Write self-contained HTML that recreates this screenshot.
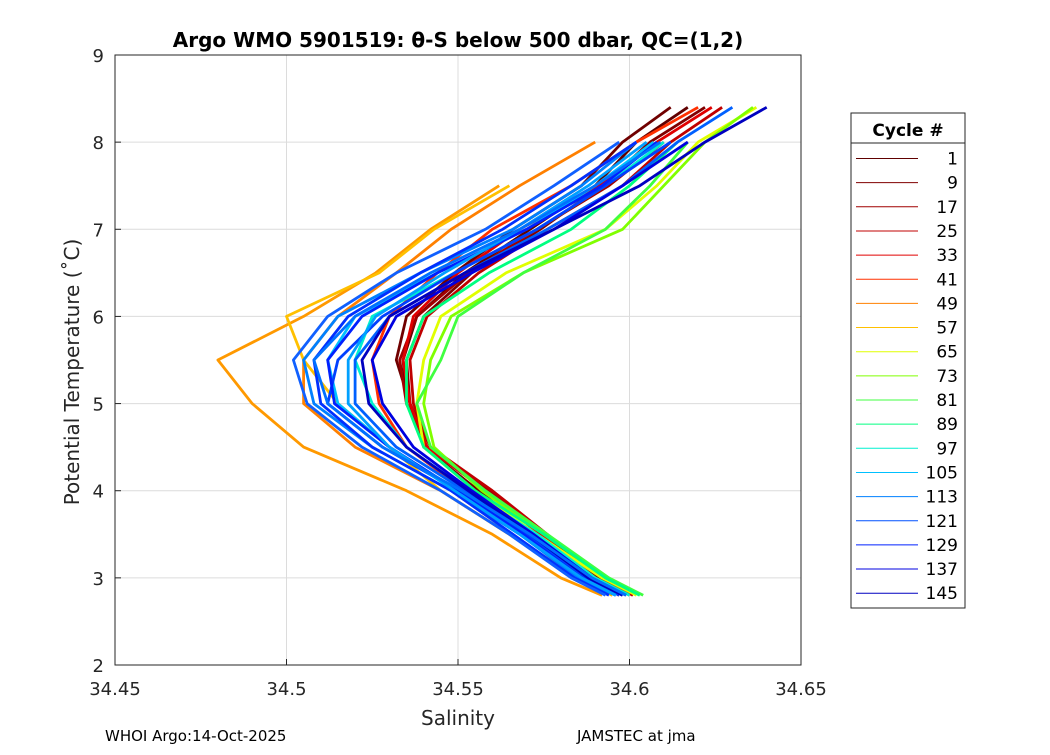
<!DOCTYPE html>
<html><head><meta charset="utf-8"><style>
body{margin:0;background:#fff;font-family:"Liberation Sans",sans-serif}
svg text{font-family:"DejaVu Sans","Liberation Sans",sans-serif}
</style></head><body>
<svg id="c" width="1050" height="750" xmlns="http://www.w3.org/2000/svg">
<rect width="1050" height="750" fill="#fff"/>
<g id="grid"></g><g id="lines"></g><g id="axes"></g><g id="legend"></g>
</svg>
<script>
const temps=[8.4,8.0,7.5,7.0,6.5,6.0,5.5,5.0,4.5,4.0,3.5,3.0,2.8];
const cycles=[1,5,9,17,25,33,41,49,53,57,65,73,81,89,97,105,113,117,121,129,137,145,141,133,101,109];
const colors=["#600000","#700000","#800000","#a00000","#c00000","#e00000","#ff3000","#ff8000","#ff9900","#ffc000","#e0ff00","#80ff00","#40ff40","#00ff80","#00f0d0","#00c0ff","#0080ff","#0060ff","#0040ff","#0020ff","#0000e0","#0000c0","#0030ff","#1060ff","#00a0ff","#0070ff"];
const salinity=[
[34.617,34.602,34.590,34.571,34.552,34.538,34.534,34.535,34.541,34.558,34.574,34.590,34.598],
[34.612,34.598,34.586,34.566,34.549,34.535,34.532,34.536,34.540,34.556,34.572,34.589,34.597],
[34.622,34.606,34.592,34.574,34.554,34.540,34.535,34.536,34.542,34.559,34.575,34.591,34.600],
[null,34.610,34.594,34.573,34.553,34.538,34.533,34.535,34.541,34.559,34.575,34.592,34.601],
[34.627,34.612,34.598,34.576,34.556,34.541,34.536,34.537,34.542,34.560,34.576,34.592,34.601],
[34.624,34.608,34.591,34.568,34.550,34.537,34.534,34.536,34.541,34.558,34.574,34.590,34.599],
[34.620,34.602,34.583,34.560,34.544,34.530,34.525,34.527,34.535,34.552,34.570,34.588,34.597],
[null,34.590,34.568,34.548,34.532,34.515,34.505,34.505,34.520,34.545,34.565,34.585,34.595],
[null,null,34.562,34.542,34.526,34.505,34.480,34.490,34.505,34.535,34.560,34.580,34.592],
[null,null,34.565,34.543,34.527,34.500,34.505,34.515,34.530,34.545,34.565,34.585,34.595],
[34.637,34.620,34.608,34.593,34.564,34.545,34.540,34.538,34.540,34.555,34.573,34.592,34.602],
[34.636,34.622,34.610,34.598,34.569,34.548,34.542,34.540,34.543,34.557,34.575,34.593,34.603],
[null,34.617,34.606,34.593,34.569,34.550,34.545,34.538,34.542,34.558,34.576,34.594,34.604],
[null,34.614,34.600,34.583,34.559,34.540,34.535,34.535,34.540,34.555,34.575,34.593,34.603],
[null,34.610,34.593,34.573,34.549,34.525,34.520,34.525,34.535,34.553,34.573,34.590,34.600],
[null,34.607,34.590,34.570,34.544,34.520,34.512,34.515,34.530,34.550,34.570,34.588,34.598],
[null,34.602,34.586,34.566,34.539,34.515,34.505,34.508,34.525,34.548,34.568,34.585,34.596],
[34.630,34.614,34.598,34.576,34.552,34.530,34.520,34.520,34.532,34.552,34.572,34.588,34.598],
[null,34.612,34.593,34.573,34.549,34.528,34.515,34.512,34.528,34.550,34.570,34.587,34.597],
[null,34.608,34.592,34.570,34.544,34.522,34.512,34.514,34.530,34.550,34.569,34.586,34.596],
[null,34.617,34.598,34.578,34.554,34.532,34.525,34.528,34.537,34.554,34.572,34.589,34.599],
[34.640,34.622,34.603,34.578,34.552,34.530,34.522,34.524,34.535,34.553,34.571,34.588,34.598],
[null,34.602,34.583,34.563,34.539,34.518,34.508,34.510,34.525,34.548,34.566,34.584,34.594],
[null,34.597,34.578,34.558,34.532,34.512,34.502,34.506,34.522,34.545,34.565,34.583,34.593],
[null,34.605,34.588,34.568,34.546,34.526,34.518,34.518,34.530,34.549,34.568,34.586,34.596],
[null,34.609,34.590,34.568,34.542,34.520,34.508,34.512,34.528,34.551,34.571,34.589,34.599]
];
const xTicks=[34.45,34.5,34.55,34.6,34.65];
const xTickLabels=["34.45","34.5","34.55","34.6","34.65"];
const yTicks=[2,3,4,5,6,7,8,9];
const legendCycles=[1,9,17,25,33,41,49,57,65,73,81,89,97,105,113,121,129,137,145];
const legendColors=["#600000","#800000","#a00000","#c00000","#e00000","#ff3000","#ff8000","#ffc000","#e0ff00","#80ff00","#40ff40","#00ff80","#00f0d0","#00c0ff","#0080ff","#0050ff","#0020ff","#0000e0","#0000c0"];

const L=115,R=801,T=55,B=665;
const sx=s=>L+(s-34.45)/(0.2)*(R-L);
const sy=t=>B-(t-2)/7*(B-T);
const NS="http://www.w3.org/2000/svg";
function mk(tag,at,parent,txt){const e=document.createElementNS(NS,tag);for(const k in at)e.setAttribute(k,at[k]);if(txt!==undefined)e.textContent=txt;parent.appendChild(e);return e;}
const g=document.getElementById('grid'),ln=document.getElementById('lines'),ax=document.getElementById('axes'),lg=document.getElementById('legend');
xTicks.forEach((v,i)=>{const x=sx(v);
 const l=mk('line',{x1:x,x2:x,y1:T,y2:B,stroke:'#dcdcdc','stroke-width':1},g);
 
 const t=mk('text',{x:x,y:B+30,'font-size':18,'text-anchor':'middle',fill:'#262626'},ax,xTickLabels[i]);
 
 mk('line',{x1:x,x2:x,y1:B,y2:B-6,stroke:'#262626'},ax);});
yTicks.forEach(v=>{const y=sy(v);
 const l=mk('line',{x1:L,x2:R,y1:y,y2:y,stroke:'#dcdcdc','stroke-width':1},g);
 
 const t=mk('text',{x:L-11,y:y+7,'font-size':18,'text-anchor':'end',fill:'#262626'},ax,String(v));
 
 mk('line',{x1:L,x2:L+6,y1:y,y2:y,stroke:'#262626'},ax);});
salinity.forEach((arr,i)=>{
 const pts=[];arr.forEach((s,j)=>{if(s!==null)pts.push(sx(s).toFixed(1)+','+sy(temps[j]).toFixed(1));});
 const p=mk('polyline',{points:pts.join(' '),fill:'none',stroke:colors[i],'stroke-width':2.8,'stroke-linejoin':'round'},ln);
 
 });
const fr=mk('rect',{x:L,y:T,width:R-L,height:B-T,fill:'none',stroke:'#262626','stroke-width':1},ax);

let t=mk('text',{x:458,y:47,'font-size':20,'font-weight':'bold','text-anchor':'middle',fill:'#000'},ax,'Argo WMO 5901519: θ-S below 500 dbar,  QC=(1,2)');

t=mk('text',{x:458,y:725,'font-size':20,'text-anchor':'middle',fill:'#262626'},ax,'Salinity');

t=mk('text',{x:0,y:0,'font-size':20,'text-anchor':'middle',fill:'#262626',transform:'translate(79,372) rotate(-90)'},ax,'Potential Temperature (˚C)');

t=mk('text',{x:105,y:741,'font-size':15,fill:'#000'},ax,'WHOI Argo:14-Oct-2025');

t=mk('text',{x:577,y:741,'font-size':15,fill:'#000'},ax,'JAMSTEC at jma');

const lb=mk('rect',{x:851,y:113,width:114,height:495,fill:'#fff',stroke:'#262626'},lg);

mk('line',{x1:851,x2:965,y1:143,y2:143,stroke:'#262626'},lg);
t=mk('text',{x:908,y:136,'font-size':17,'font-weight':'bold','text-anchor':'middle',fill:'#000'},lg,'Cycle #');

legendCycles.forEach((c,i)=>{const y=158.5+i*24.15;
 const e=mk('line',{x1:856,x2:918,y1:y,y2:y,stroke:legendColors[i],'stroke-width':1},lg);
 
 const tx=mk('text',{x:958,y:y+6,'font-size':17,'text-anchor':'end',fill:'#000'},lg,String(c));
 });
</script>
</body></html>
